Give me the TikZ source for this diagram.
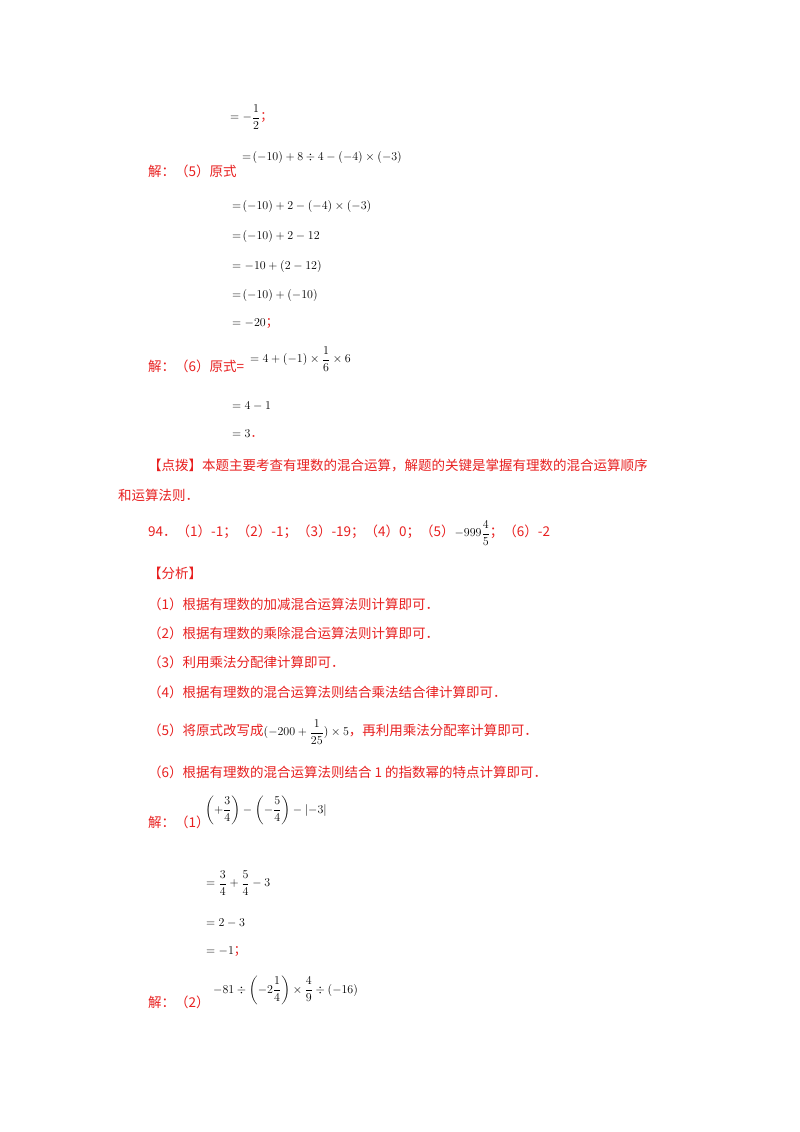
\documentclass[tikz,border=0pt]{standalone}
\usepackage{fontspec}
\usepackage{amsmath}
\setmainfont{Liberation Serif}
\newfontfamily\cjk{Noto Sans CJK SC}
\definecolor{ansred}{RGB}{232,32,32}
\begin{document}
\begin{tikzpicture}[x=1pt,y=-1pt,
  red/.style={anchor=west,inner sep=0pt,text=ansred,font=\cjk\fontsize{13.5}{16}\selectfont},
  mth/.style={anchor=west,inner sep=0pt,font=\fontsize{12.5}{15}\selectfont}]
\useasboundingbox[fill=white] (0,0) rectangle (800,1132);
\node[mth] (a1) at (230,117) {$\displaystyle =-\frac{1}{2}$\textcolor{ansred}{\cjk ；}};
\node[red] (j5) at (148,171) {解：（5）原式};
\node[mth] (m5) at (242,157) {$=\!\left(-10\right)+8\div4-\left(-4\right)\times\left(-3\right)$};
\node[mth] (m51) at (232,206) {$=\!\left(-10\right)+2-\left(-4\right)\times\left(-3\right)$};
\node[mth] (m52) at (232,236) {$=\!\left(-10\right)+2-12$};
\node[mth] (m53) at (232,266) {$=-10+\left(2-12\right)$};
\node[mth] (m54) at (232,295) {$=\!\left(-10\right)+\left(-10\right)$};
\node[mth] (m55) at (232,324) {$=-20$\textcolor{ansred}{\cjk ；}};
\node[red] (j6) at (148,366) {解：（6）原式=};
\node[mth] (m6) at (250,359) {$\displaystyle =4+\left(-1\right)\times\frac{1}{6}\times6$};
\node[mth] (m61) at (232,406) {$=4-1$};
\node[mth] (m62) at (232,434) {$=3$\textcolor{ansred}{\cjk ．}};
\node[red] (db) at (148,466) {【点拨】本题主要考查有理数的混合运算，解题的关键是掌握有理数的混合运算顺序};
\node[red] (db2) at (118,495) {和运算法则．};
\node[red] (q94) at (148,533) {94．（1）-1；（2）-1；（3）-19；（4）0；（5）\textcolor{black}{\fontsize{12.5}{15}\selectfont$\displaystyle -999\frac{4}{5}$}；（6）-2};
\node[red] (fx) at (148,573) {【分析】};
\node[red] (f1) at (148,604) {（1）根据有理数的加减混合运算法则计算即可．};
\node[red] (f2) at (148,633) {（2）根据有理数的乘除混合运算法则计算即可．};
\node[red] (f3) at (148,662) {（3）利用乘法分配律计算即可．};
\node[red] (f4) at (148,692) {（4）根据有理数的混合运算法则结合乘法结合律计算即可．};
\node[red] (f5) at (148,732) {（5）将原式改写成\textcolor{black}{\fontsize{12.5}{15}\selectfont$\displaystyle (-200+\frac{1}{25})\times5$}，再利用乘法分配率计算即可．};
\node[red] (f6) at (148,772) {（6）根据有理数的混合运算法则结合 1 的指数幂的特点计算即可．};
\node[red] (j1) at (148,822) {解：（1）};
\node[mth] (n1) at (205,810) {$\displaystyle \left(+\frac{3}{4}\right)-\left(-\frac{5}{4}\right)-\left|-3\right|$};
\node[mth] (n11) at (206,883) {$\displaystyle =\frac{3}{4}+\frac{5}{4}-3$};
\node[mth] (n12) at (206,923) {$=2-3$};
\node[mth] (n13) at (206,952) {$=-1$\textcolor{ansred}{\cjk ；}};
\node[red] (j2) at (148,1002) {解：（2）};
\node[mth] (n2) at (213,990) {$\displaystyle -81\div\left(-2\frac{1}{4}\right)\times\frac{4}{9}\div\left(-16\right)$};
\end{tikzpicture}
\end{document}
